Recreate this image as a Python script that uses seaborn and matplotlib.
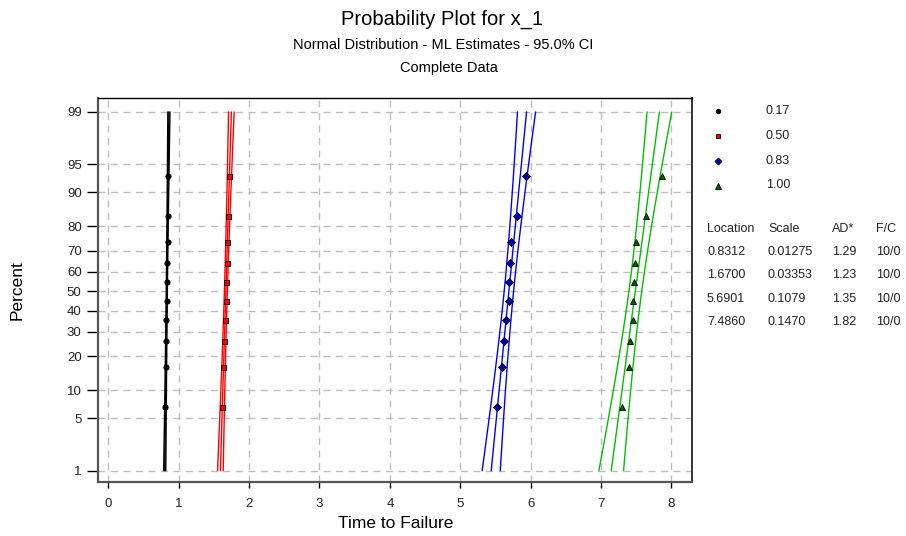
import matplotlib
matplotlib.use("Agg")
import matplotlib.pyplot as plt
import seaborn as sns
import numpy as np
import pandas as pd
from statistics import NormalDist

# ---------------- data ----------------
groups = ["0.17", "0.50", "0.83", "1.00"]
x_017 = [0.810, 0.815, 0.824, 0.824, 0.834, 0.838, 0.838, 0.848, 0.852, 0.852]
x_050 = [1.615, 1.625, 1.639, 1.653, 1.668, 1.668, 1.690, 1.690, 1.705, 1.719]
x_083 = [5.521, 5.597, 5.625, 5.649, 5.688, 5.696, 5.710, 5.720, 5.810, 5.933]
x_100 = [7.301, 7.392, 7.406, 7.453, 7.453, 7.463, 7.477, 7.496, 7.634, 7.865]
plot_pct = [6.73, 16.35, 25.96, 35.58, 45.19, 54.81, 64.42, 74.04, 83.65, 93.27]

locations = [0.8312, 1.6700, 5.6901, 7.4860]
scales = [0.01275, 0.03353, 0.1079, 0.1470]
loc_txt = ["0.8312", "1.6700", "5.6901", "7.4860"]
scale_txt = ["0.01275", "0.03353", "0.1079", "0.1470"]
ad_txt = ["1.29", "1.23", "1.35", "1.82"]
fc_txt = ["10/0", "10/0", "10/0", "10/0"]
n_obs = 10

ytick_pct = [1, 5, 10, 20, 30, 40, 50, 60, 70, 80, 90, 95, 99]
xticks = [0, 1, 2, 3, 4, 5, 6, 7, 8]

# ---------------- styles ----------------
line_col = {"0.17": "#000000", "0.50": "#FF0000", "0.83": "#0000FF", "1.00": "#00C000"}
mark_col = {"0.17": "#000000", "0.50": "#FF0000", "0.83": "#0000B0", "1.00": "#006400"}
markers = {"0.17": "o", "0.50": "s", "0.83": "D", "1.00": "^"}
msize = {"0.17": 3.8, "0.50": 3.6, "0.83": 4.2, "1.00": 4.4}

nd = NormalDist()
ppf = lambda p: nd.inv_cdf(p)

sns.set_theme(style="white")
plt.rcParams['font.family'] = ['Liberation Sans', 'DejaVu Sans']

W, H = 906, 536
fig = plt.figure(figsize=(W / 100, H / 100), dpi=100)
L, R, T, B = 98.3, 691.7, 98.0, 482.3
ax = fig.add_axes([L / W, 1 - B / H, (R - L) / W, (B - T) / H])

# points dataframe
xs_all = [x_017, x_050, x_083, x_100]
df = pd.DataFrame({
    "x": np.concatenate(xs_all),
    "z": [ppf(p / 100) for _ in groups for p in plot_pct],
    "grp": np.repeat(groups, n_obs),
})

# fitted lines + 95% CI (ML normal)
zc = 1.959964
zline = np.linspace(ppf(0.01), ppf(0.99), 60)
rows = []
for g, mu, sg in zip(groups, locations, scales):
    se = sg * np.sqrt(1.0 / n_obs + zline ** 2 / (2.0 * n_obs))
    for kind, xv in (("fit", mu + zline * sg), ("lo", mu + zline * sg - zc * se), ("hi", mu + zline * sg + zc * se)):
        rows.append(pd.DataFrame({"x": xv, "z": zline, "grp": g, "kind": kind, "id": g + kind}))
lines = pd.concat(rows, ignore_index=True)

for g in groups:
    sub = lines[lines.grp == g]
    sns.lineplot(data=sub, x="x", y="z", units="id", estimator=None, sort=False,
                 color=line_col[g], lw=1.0, ax=ax, zorder=3)

for g in groups:
    sub = df[df.grp == g]
    ax.plot(sub.x, sub.z, linestyle="none", marker=markers[g], ms=msize[g],
            mfc=mark_col[g], mec="black", mew=0.6, zorder=5)

ax.set_xlim(-0.142, 8.287)
ax.set_ylim(-2.477, 2.507)
ax.set_xticks(xticks)
ax.set_xticklabels([str(v) for v in xticks])
ax.set_yticks([ppf(p / 100) for p in ytick_pct])
ax.set_yticklabels([str(p) for p in ytick_pct])
ax.set_xlabel("")
ax.set_ylabel("")

ax.grid(True, color="#BDBDBD", linestyle=(0, (5, 4)), linewidth=1.0)
ax.set_axisbelow(True)
ax.tick_params(axis="y", which="major", length=8, width=1, color="black",
               labelsize=9.5, pad=4, left=True, labelcolor="#222222")
ax.tick_params(axis="x", which="major", length=4, width=1, color="black",
               labelsize=9.5, pad=7, bottom=True, labelcolor="#222222")
for side in ["left", "bottom"]:
    ax.spines[side].set_color("#555555")
    ax.spines[side].set_linewidth(1.6)
ax.spines["top"].set_color("black")
ax.spines["top"].set_linewidth(1.0)
ax.spines["right"].set_color("#333333")
ax.spines["right"].set_linewidth(1.4)

# overlay in pixel coordinates for texts / legend
ov = fig.add_axes([0, 0, 1, 1], facecolor="none")
ov.set_xlim(0, W)
ov.set_ylim(H, 0)
ov.axis("off")

ov.text(442, 19, "Probability Plot for x_1", ha="center", va="center", fontsize=14.5, color="black")
ov.text(443, 45, "Normal Distribution - ML Estimates - 95.0% CI", ha="center", va="center", fontsize=10.5, color="black")
ov.text(449, 68, "Complete Data", ha="center", va="center", fontsize=10.5, color="black")
ov.text(395.5, 524, "Time to Failure", ha="center", va="center", fontsize=12.5, color="black")
ov.text(17.5, 290, "Percent", ha="center", va="center", rotation=90, fontsize=12.5, color="black")

leg_y = [111, 136, 161, 185.5]
for g, yy in zip(groups, leg_y):
    ov.plot([718], [yy], linestyle="none", marker=markers[g], ms=msize[g] * 0.85,
            mfc=mark_col[g], mec="black", mew=0.6)
    ov.text(766, yy, g, ha="left", va="center", fontsize=9, color="#222222")

col_x = [707, 768, 832, 876]
ov_hdr = ["Location", "Scale", "AD*", "F/C"]
for cx, h in zip(col_x, ov_hdr):
    ov.text(cx, 229, h, ha="left", va="center", fontsize=9, color="#222222")
row_y = [252, 275, 299, 322]
for i, yy in enumerate(row_y):
    for cx, t in zip(col_x, [loc_txt[i], scale_txt[i], ad_txt[i], fc_txt[i]]):
        ov.text(cx, yy, t, ha="left", va="center", fontsize=9, color="#222222")

fig.savefig("out.png", dpi=100, facecolor="white")
